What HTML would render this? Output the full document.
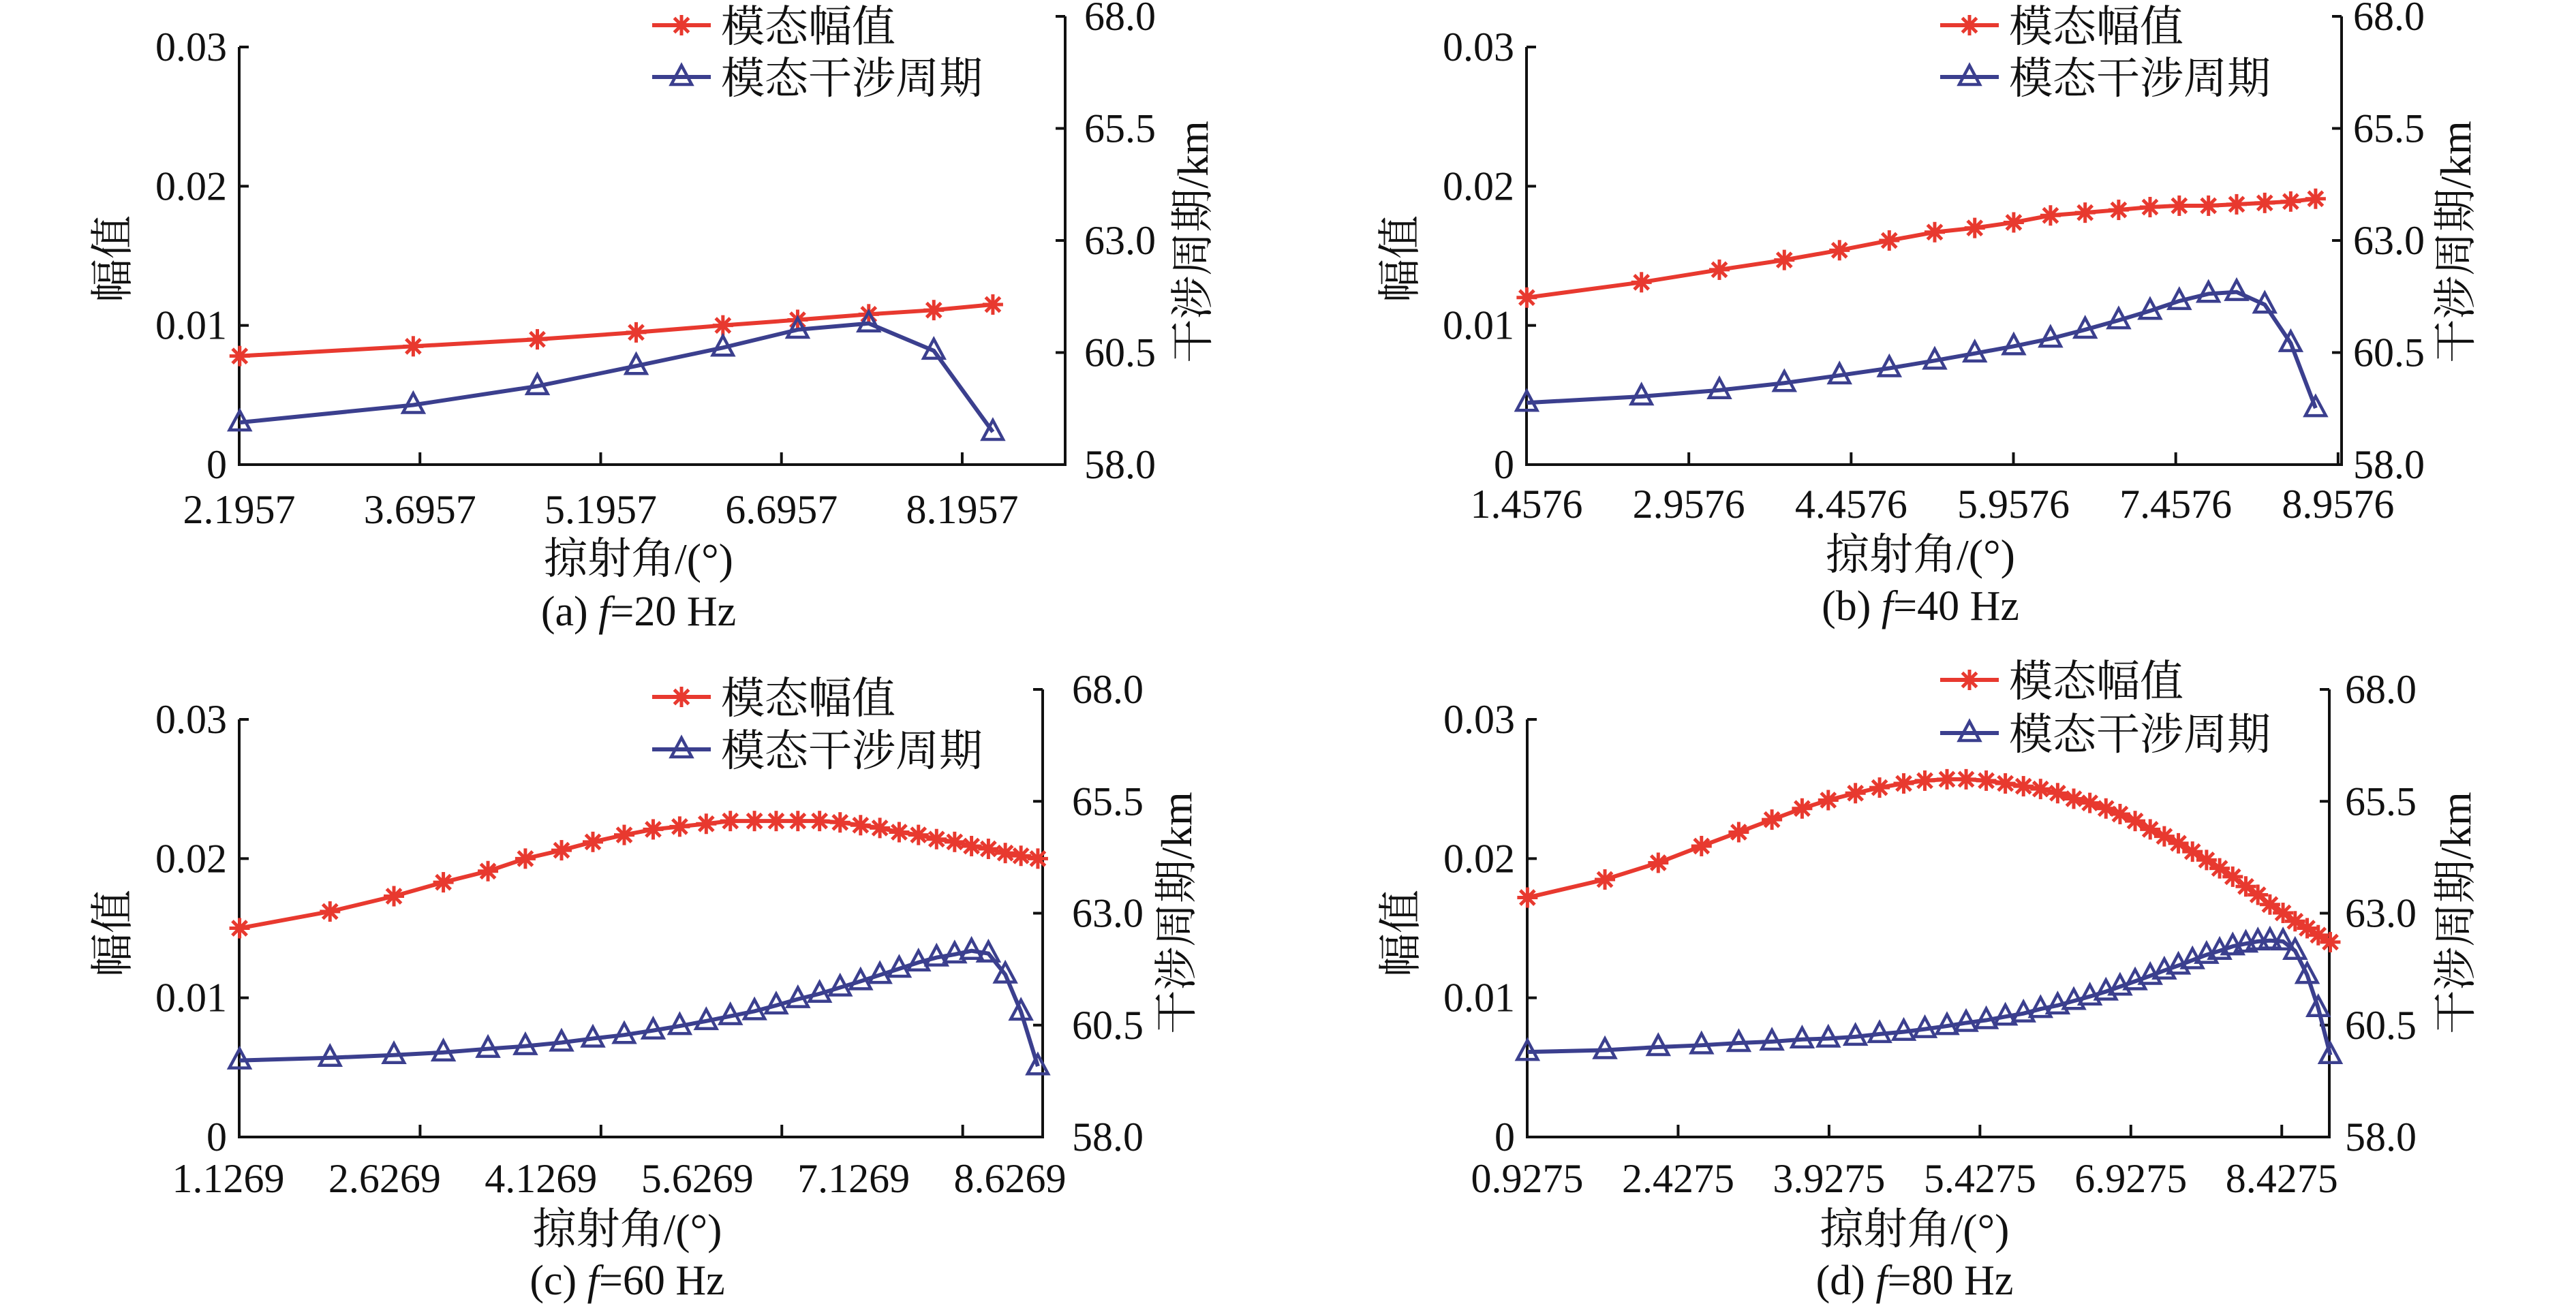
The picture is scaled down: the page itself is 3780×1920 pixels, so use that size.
<!DOCTYPE html>
<html><head><meta charset="utf-8"><style>
html,body{margin:0;padding:0;background:#fff;}
svg{display:block;}
text{font-family:"Liberation Serif","Noto Serif CJK SC","Noto Sans CJK SC",serif;fill:#111;}
</style></head><body>
<svg id="chart" xmlns="http://www.w3.org/2000/svg" width="3780" height="1920" viewBox="0 0 3780 1920"></svg>
<script>
// ---- data: panel (a) f=20 Hz ----
const xA = [2.20, 3.64, 4.67, 5.49, 6.21, 6.83, 7.42, 7.96, 8.45];
const ampA = [0.0078, 0.0085, 0.0090, 0.0095, 0.0100, 0.0104, 0.0108, 0.0111, 0.0115];
const perA = [58.94, 59.33, 59.75, 60.20, 60.61, 61.01, 61.15, 60.54, 58.73];
const xTicksA = [2.1957, 3.6957, 5.1957, 6.6957, 8.1957];
const xLabelsA = ["2.1957", "3.6957", "5.1957", "6.6957", "8.1957"];
// ---- data: panel (b) f=40 Hz ----
const xB = [1.46, 2.52, 3.24, 3.84, 4.35, 4.81, 5.23, 5.60, 5.96, 6.30, 6.62, 6.93, 7.22, 7.49, 7.76, 8.02, 8.28, 8.52, 8.75];
const ampB = [0.0120, 0.0131, 0.0140, 0.0147, 0.0154, 0.0161, 0.0167, 0.0170, 0.0174, 0.0179, 0.0181, 0.0183, 0.0185, 0.0186, 0.0186, 0.0187, 0.0188, 0.0189, 0.0191];
const perB = [59.38, 59.52, 59.66, 59.82, 59.99, 60.15, 60.32, 60.48, 60.64, 60.81, 61.01, 61.22, 61.43, 61.65, 61.81, 61.85, 61.57, 60.71, 59.26];
const xTicksB = [1.4576, 2.9576, 4.4576, 5.9576, 7.4576, 8.9576];
const xLabelsB = ["1.4576", "2.9576", "4.4576", "5.9576", "7.4576", "8.9576"];
// ---- data: panel (c) f=60 Hz ----
const xC = [1.13, 1.88, 2.41, 2.82, 3.19, 3.50, 3.80, 4.06, 4.32, 4.56, 4.78, 5.00, 5.20, 5.40, 5.58, 5.76, 5.94, 6.11, 6.28, 6.44, 6.60, 6.76, 6.91, 7.06, 7.20, 7.34, 7.48, 7.61, 7.75];
const ampC = [0.0150, 0.0162, 0.0173, 0.0183, 0.0191, 0.0200, 0.0206, 0.0212, 0.0217, 0.0221, 0.0223, 0.0225, 0.0227, 0.0227, 0.0227, 0.0227, 0.0227, 0.0226, 0.0224, 0.0222, 0.0219, 0.0217, 0.0214, 0.0212, 0.0209, 0.0207, 0.0204, 0.0202, 0.0200];
const perC = [59.71, 59.77, 59.83, 59.89, 59.97, 60.03, 60.11, 60.20, 60.28, 60.38, 60.48, 60.59, 60.70, 60.81, 60.94, 61.08, 61.20, 61.34, 61.48, 61.62, 61.76, 61.90, 62.01, 62.08, 62.16, 62.10, 61.63, 60.80, 59.58];
const xTicksC = [1.1269, 2.6269, 4.1269, 5.6269, 7.1269];
const xLabelsC = ["1.1269", "2.6269", "4.1269", "5.6269", "7.1269", "8.6269"];
// ---- data: panel (d) f=80 Hz ----
const xD = [0.93, 1.70, 2.23, 2.66, 3.03, 3.36, 3.66, 3.92, 4.19, 4.43, 4.67, 4.88, 5.10, 5.29, 5.49, 5.68, 5.86, 6.03, 6.20, 6.36, 6.52, 6.68, 6.82, 6.97, 7.12, 7.26, 7.40, 7.54, 7.68, 7.81, 7.94, 8.07, 8.19, 8.31, 8.44, 8.56, 8.68, 8.79, 8.91];
const ampD = [0.0172, 0.0185, 0.0197, 0.0209, 0.0219, 0.0228, 0.0236, 0.0242, 0.0247, 0.0251, 0.0254, 0.0256, 0.0257, 0.0257, 0.0256, 0.0254, 0.0252, 0.0250, 0.0247, 0.0243, 0.0240, 0.0236, 0.0232, 0.0227, 0.0221, 0.0216, 0.0211, 0.0205, 0.0199, 0.0193, 0.0187, 0.0180, 0.0174, 0.0167, 0.0161, 0.0155, 0.0150, 0.0145, 0.0140];
const perD = [59.90, 59.94, 60.01, 60.05, 60.10, 60.13, 60.18, 60.20, 60.24, 60.30, 60.35, 60.41, 60.48, 60.55, 60.61, 60.69, 60.76, 60.86, 60.94, 61.04, 61.14, 61.25, 61.36, 61.48, 61.60, 61.72, 61.83, 61.95, 62.07, 62.16, 62.26, 62.32, 62.37, 62.39, 62.37, 62.16, 61.62, 60.88, 59.83];
const xTicksD = [0.9275, 2.4275, 3.9275, 5.4275, 6.9275, 8.4275];
const xLabelsD = ["0.9275", "2.4275", "3.9275", "5.4275", "6.9275", "8.4275"];
// shared axis data
const ampTicks = [0, 0.01, 0.02, 0.03];
const ampTickLabels = ["0", "0.01", "0.02", "0.03"];
const perTicks = [58.0, 60.5, 63.0, 65.5, 68.0];
const perTickLabels = ["58.0", "60.5", "63.0", "65.5", "68.0"];
const legendNames = ["模态幅值", "模态干涉周期"];

const NS = "http://www.w3.org/2000/svg";
const svg = document.getElementById("chart");
const RED = "#e8392f", BLUE = "#3b3f8e";

function mk(tag, attrs, parent) {
  const e = document.createElementNS(NS, tag);
  for (const k in attrs) e.setAttribute(k, attrs[k]);
  parent.appendChild(e);
  return e;
}
function star(g, x, y, r) {
  const s = mk("g", {stroke: RED, "stroke-width": 5}, g);
  
  
  for (let k = 0; k < 4; k++) {
    const a = k * Math.PI / 4;
    mk("line", {x1: x - r * Math.cos(a), y1: y - r * Math.sin(a), x2: x + r * Math.cos(a), y2: y + r * Math.sin(a)}, s);
  }
}
function tri(g, x, y) {
  const t = mk("polygon", {points: `${x},${y - 17} ${x - 15},${y + 11} ${x + 15},${y + 11}`, fill: "none", stroke: BLUE, "stroke-width": 4.5, "stroke-linejoin": "miter"}, g);
  
  
}

const panels = [
  {id: "a", L: 351, R: 1563, B: 682, T: 69, RT: 24, xmin: 2.1957, xmax: 9.05, xs: xA, amp: ampA, per: perA, ticks: xTicksA, labels: xLabelsA, lblStep: 0, rOff: 28, leg: [37, 113], legX: 957, lt: [165, 380], rt: [1750, 355], xlabY: 768, xtitY: 842, capY: 918, cap: ["(a) ", "f", "=20 Hz"]},
  {id: "b", L: 2240, R: 3436, B: 682, T: 69, RT: 24, xmin: 1.4576, xmax: 8.99, xs: xB, amp: ampB, per: perB, ticks: xTicksB, labels: xLabelsB, lblStep: 0, rOff: 17, leg: [37, 113], legX: 2847, lt: [2054, 380], rt: [3603, 355], xlabY: 760, xtitY: 836, capY: 910, cap: ["(b) ", "f", "=40 Hz"]},
  {id: "c", L: 351, R: 1530, B: 1669, T: 1056, RT: 1012, xmin: 1.1269, xmax: 7.79, xs: xC, amp: ampC, per: perC, ticks: xTicksC, labels: xLabelsC, lblStep: 229.4, lbl0: 335, rOff: 43, leg: [1023, 1100], legX: 957, lt: [165, 1370], rt: [1726, 1340], xlabY: 1750, xtitY: 1826, capY: 1900, cap: ["(c) ", "f", "=60 Hz"]},
  {id: "d", L: 2241, R: 3418, B: 1669, T: 1056, RT: 1012, xmin: 0.9275, xmax: 8.9, xs: xD, amp: ampD, per: perD, ticks: xTicksD, labels: xLabelsD, lblStep: 0, rOff: 23, leg: [998, 1076], legX: 2847, lt: [2055, 1370], rt: [3603, 1340], xlabY: 1750, xtitY: 1826, capY: 1900, cap: ["(d) ", "f", "=80 Hz"]}
];

panels.forEach(p => {
  const g = mk("g", {}, svg);
  
  
  const xs = v => p.L + (v - p.xmin) / (p.xmax - p.xmin) * (p.R - p.L);
  const ya = v => p.B - v / 0.03 * (p.B - p.T);
  const yp = v => p.B - (v - 58) / 10 * (p.B - p.RT);

  const ax = mk("g", {stroke: "#111", "stroke-width": 4, fill: "none"}, g);
  
  
  mk("line", {x1: p.L, y1: p.T, x2: p.L, y2: p.B + 2}, ax);
  mk("line", {x1: p.L - 2, y1: p.B, x2: p.R + 2, y2: p.B}, ax);
  mk("line", {x1: p.R, y1: p.RT, x2: p.R, y2: p.B + 2}, ax);
  ampTicks.forEach(v => { if (v > 0) mk("line", {x1: p.L, y1: ya(v), x2: p.L + 14, y2: ya(v)}, ax); });
  perTicks.forEach(v => { if (v > 58) mk("line", {x1: p.R, y1: yp(v), x2: p.R - 14, y2: yp(v)}, ax); });
  p.ticks.forEach(v => { const x = xs(v); if (x > p.L + 5) mk("line", {x1: x, y1: p.B, x2: x, y2: p.B - 18}, ax); });

  ampTicks.forEach((v, i) => {
    const t = mk("text", {x: p.L - 18, y: ya(v) + 20, "font-size": 60, "text-anchor": "end"}, g);
    
    
    t.textContent = ampTickLabels[i];
  });
  perTicks.forEach((v, i) => {
    const t = mk("text", {x: p.R + p.rOff, y: yp(v) + 20, "font-size": 60}, g);
    
    
    t.textContent = perTickLabels[i];
  });
  p.labels.forEach((s, i) => {
    const x = p.lblStep ? p.lbl0 + i * p.lblStep : xs(p.ticks[i]);
    const t = mk("text", {x: x, y: p.xlabY, "font-size": 60, "text-anchor": "middle"}, g);
    
    
    t.textContent = s;
  });

  const xt = mk("text", {x: (p.L + p.R) / 2 - 20, y: p.xtitY, "font-size": 64, "text-anchor": "middle"}, g);
  
  
  xt.textContent = "掠射角/(°)";
  const lt = mk("text", {x: 0, y: 0, "font-size": 64, "text-anchor": "middle", transform: `translate(${p.lt[0] + 22},${p.lt[1]}) rotate(-90)`}, g);
  
  
  lt.textContent = "幅值";
  const rt = mk("text", {x: 0, y: 0, "font-size": 64, "text-anchor": "middle", transform: `translate(${p.rt[0] + 22},${p.rt[1]}) rotate(-90)`}, g);
  
  
  rt.textContent = "干涉周期/km";
  const cap = mk("text", {x: (p.L + p.R) / 2 - 20, y: p.capY, "font-size": 62, "text-anchor": "middle"}, g);
  
  
  const c1 = mk("tspan", {}, cap); c1.textContent = p.cap[0];
  const c2 = mk("tspan", {"font-style": "italic"}, cap); c2.textContent = p.cap[1];
  const c3 = mk("tspan", {}, cap); c3.textContent = p.cap[2];

  const sa = mk("g", {}, g);
  
  
  mk("polyline", {points: p.xs.map((v, i) => xs(v) + "," + ya(p.amp[i])).join(" "), fill: "none", stroke: RED, "stroke-width": 6}, sa);
  p.xs.forEach((v, i) => star(sa, xs(v), ya(p.amp[i]), 15));
  const sp = mk("g", {}, g);
  
  
  mk("polyline", {points: p.xs.map((v, i) => xs(v) + "," + yp(p.per[i])).join(" "), fill: "none", stroke: BLUE, "stroke-width": 6}, sp);
  p.xs.forEach((v, i) => tri(sp, xs(v), yp(p.per[i])));

  const lg = mk("g", {}, g);
  
  
  mk("line", {x1: p.legX, y1: p.leg[0], x2: p.legX + 86, y2: p.leg[0], stroke: RED, "stroke-width": 6}, lg);
  star(lg, p.legX + 43, p.leg[0], 15);
  mk("line", {x1: p.legX, y1: p.leg[1], x2: p.legX + 86, y2: p.leg[1], stroke: BLUE, "stroke-width": 6}, lg);
  tri(lg, p.legX + 43, p.leg[1]);
  legendNames.forEach((n, i) => {
    const t = mk("text", {x: p.legX + 101, y: p.leg[i] + 24, "font-size": 64}, lg);
    
    
    t.textContent = n;
  });
});
</script>
</body></html>
